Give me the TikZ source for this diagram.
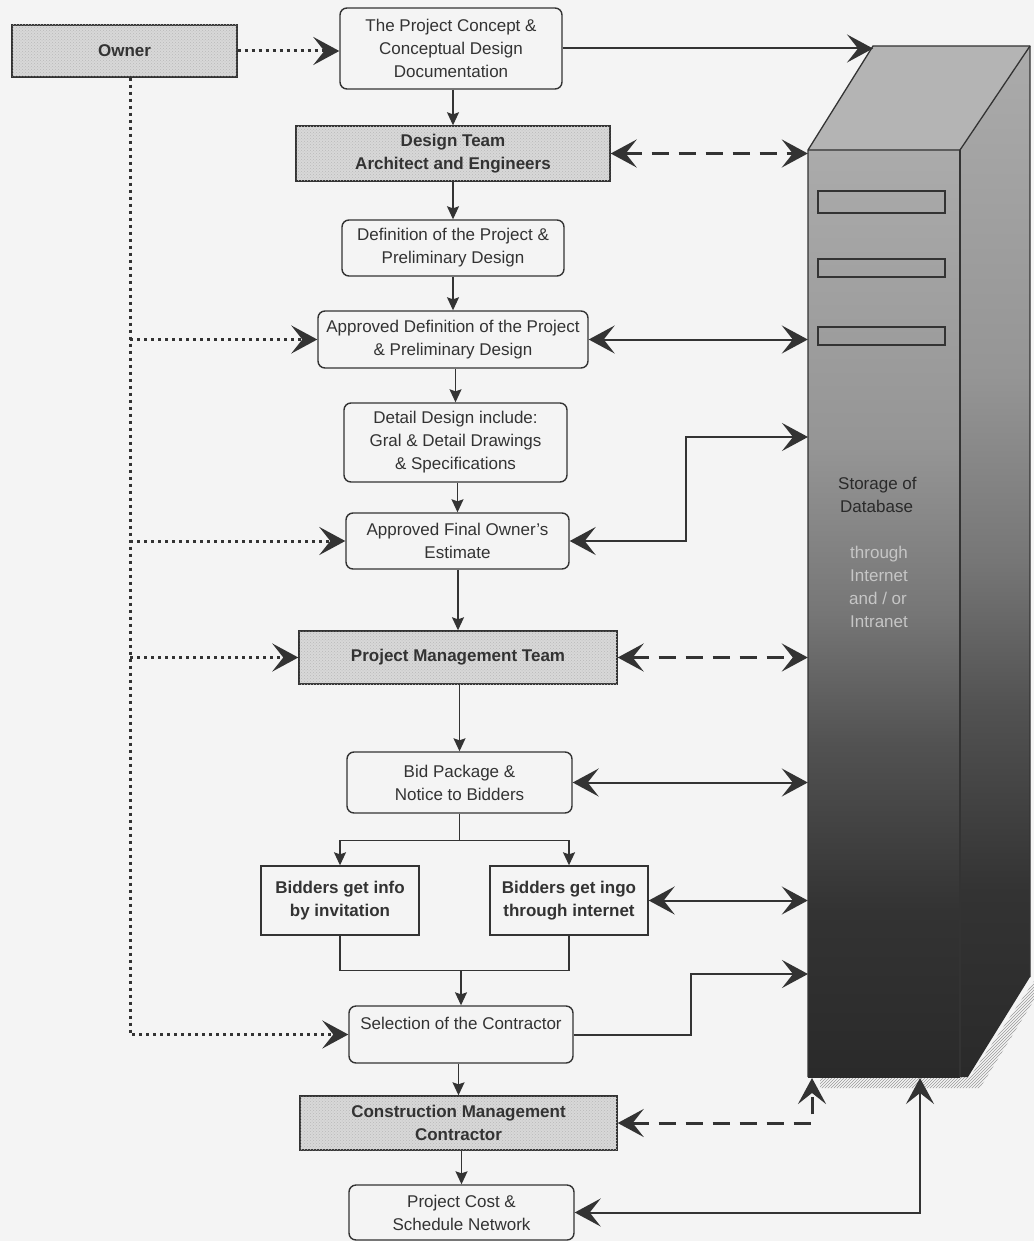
\documentclass[tikz,border=0pt]{standalone}
\usepackage{fontspec}
\setmainfont{Liberation Sans}
\usetikzlibrary{arrows.meta,patterns,calc}
\definecolor{ln}{HTML}{333333}
\definecolor{bgc}{HTML}{F4F4F4}
\definecolor{boxgray}{HTML}{D8D8D8}
\definecolor{topgray}{HTML}{B4B4B4}
\definecolor{sa}{HTML}{2A2A2A}
\definecolor{sb}{HTML}{333333}
\definecolor{sc}{HTML}{525252}
\definecolor{sd}{HTML}{767676}
\definecolor{se}{HTML}{959595}
\definecolor{sf}{HTML}{ABABAB}
\pgfdeclareverticalshading{srvshade}{100bp}{color(0bp)=(sa); color(25bp)=(sa); color(34bp)=(sb); color(43bp)=(sc); color(50bp)=(sd); color(59bp)=(se); color(75bp)=(sf); color(100bp)=(sf)}
\newcommand\myfs{\fontsize{17}{23}\selectfont}
\tikzset{
  BigTip/.tip={Stealth[length=26pt,width=28pt,inset=11pt]},
  SmallTip/.tip={Stealth[length=13pt,width=12pt,inset=2pt]},
  rbox/.style={draw=ln, line width=1.4pt, rounded corners=7pt, fill=bgc, align=center, inner sep=1pt, font=\myfs, text=ln},
  pbox/.style={draw=ln, line width=1.4pt, fill=bgc, align=center, inner sep=1pt, font=\myfs\bfseries, text=ln},
  gbox/.style={draw=ln, line width=1.4pt, fill=boxgray, postaction={pattern=crosshatch dots, pattern color=gray!55}, align=center, inner sep=1pt, font=\myfs\bfseries, text=ln},
  flow/.style={draw=ln, line width=1.3pt, -{SmallTip}},
  conn/.style={draw=ln, line width=2pt},
  dotline/.style={draw=ln, line width=3pt, dash pattern=on 3pt off 4pt},
  dashline/.style={draw=ln, line width=3pt, dash pattern=on 17pt off 10pt},
  srvtext/.style={anchor=base west, inner sep=0pt, font=\myfs},
}
\begin{document}
\begin{tikzpicture}[x=1pt,y=-1pt]
\fill[bgc] (0,0) rectangle (1034,1241);
\useasboundingbox (0,0) rectangle (1034,1241);

% server
\fill[pattern=north east lines, pattern color=gray!80] (820,1077) -- (970,1077) -- (1034,981) -- (1034,1000) -- (980,1088) -- (820,1088) -- cycle;
\fill[topgray] (808,150) -- (873,46) -- (1030,46) -- (960,150) -- cycle;
\shade[shading=srvshade] (960,150) -- (1030,46) -- (1030,977) -- (968,1077) -- (960,1077) -- cycle;
\shade[shading=srvshade] (808,150) rectangle (960,1077);
\draw[ln, line width=1.3pt, line join=round] (808,1077) -- (808,150) -- (873,46) -- (1030,46) -- (1030,977);
\draw[ln, line width=1.3pt] (808,150) -- (960,150) -- (1030,46);
\draw[ln, line width=1.3pt] (960,150) -- (960,1077);
\draw[ln, line width=1.5pt] (818,191) rectangle (945,213);
\draw[ln, line width=1.5pt] (818,259) rectangle (945,277);
\draw[ln, line width=1.5pt] (818,327) rectangle (945,345);
\node[minimum width=152pt, minimum height=927pt, inner sep=0pt] (server) at (884,613.5) {};
\coordinate (srvTL) at (873,46);
\node[srvtext, text=sa] (st1) at (838,489) {Storage of};
\node[srvtext, text=sa] (st2) at (840,512) {Database};
\node[srvtext, text=gray!45] (st3) at (850,558) {through};
\node[srvtext, text=gray!45] (st4) at (850,581) {Internet};
\node[srvtext, text=gray!45] (st5) at (849,604) {and / or};
\node[srvtext, text=gray!45] (st6) at (850,627) {Intranet};

% boxes
\node[gbox, font=\myfs\bfseries, minimum width=225pt, minimum height=52pt] (owner) at (124.5,51) {Owner};
\node[rbox, minimum width=222pt, minimum height=81pt] (concept) at (451,48.5) {The Project Concept \&\\Conceptual Design\\Documentation};
\node[gbox, minimum width=314pt, minimum height=55pt] (design) at (453,153.5) {Design Team\\Architect and Engineers};
\node[rbox, minimum width=222pt, minimum height=56pt] (defn) at (453,248) {Definition of the Project \&\\Preliminary Design};
\node[rbox, minimum width=270pt, minimum height=57pt] (apdef) at (453,339.5) {Approved Definition of the Project\\\& Preliminary Design};
\node[rbox, minimum width=223pt, minimum height=79pt] (detail) at (455.5,442.5) {Detail Design include:\\Gral \& Detail Drawings\\\& Specifications};
\node[rbox, minimum width=223pt, minimum height=56pt] (estim) at (457.5,541) {Approved Final Owner's\\Estimate};
\node[gbox, minimum width=318pt, minimum height=53pt] (pmt) at (458,657.5) {Project Management Team};
\node[rbox, minimum width=225pt, minimum height=61pt] (bid) at (459.5,782.5) {Bid Package \&\\Notice to Bidders};
\node[pbox, minimum width=158pt, minimum height=69pt] (binv) at (340,900.5) {Bidders get info\\by invitation};
\node[pbox, minimum width=158pt, minimum height=69pt] (bint) at (569,900.5) {Bidders get ingo\\through internet};
\node[rbox, minimum width=224pt, minimum height=57pt] (sel) at (461,1034.5) {Selection of the Contractor\\\mbox{}};
\node[gbox, minimum width=317pt, minimum height=54pt] (cmc) at (458.5,1123) {Construction Management\\Contractor};
\node[rbox, minimum width=225pt, minimum height=55pt] (pcost) at (461.5,1212.5) {Project Cost \&\\Schedule Network};

% flow arrows
\draw[flow] (concept.south -| design.north) -- (design.north);
\draw[flow] (design.south) -- (defn.north);
\draw[flow] (defn.south) -- (apdef.north);
\draw[flow] (apdef.south -| detail.north) -- (detail.north);
\draw[flow] (detail.south -| estim.north) -- (estim.north);
\draw[flow] (estim.south -| pmt.north) -- (pmt.north);
\draw[flow] (pmt.south -| bid.north) -- (bid.north);
\draw[draw=ln, line width=1.3pt] (bid.south) -- ++(0,27) coordinate (split);
\draw[flow] (split) -| (binv.north);
\draw[flow] (split) -| (bint.north);
\draw[draw=ln, line width=1.3pt] (binv.south) -- ++(0,35) -| (bint.south);
\coordinate (merge) at (sel.north |- 0,970);
\draw[flow] (merge) -- (sel.north);
\draw[flow] (sel.south -| cmc.north) -- (cmc.north);
\draw[flow] (cmc.south -| pcost.north) -- (pcost.north);

% owner dotted lines
\coordinate (od) at ($(owner.south)+(5.5,0)$);
\draw[dotline, -{BigTip}] (owner.east) -- (owner.east -| concept.west);
\draw[dotline, -{BigTip}] (od) |- (sel.west);
\draw[dotline, -{BigTip}] (od |- apdef.west) -- (apdef.west);
\draw[dotline, -{BigTip}] (od |- estim.west) -- (estim.west);
\draw[dotline, -{BigTip}] (od |- pmt.west) -- (pmt.west);

% connectors to server
\draw[conn, -{BigTip}] (concept.east) -- (concept.east -| srvTL);
\draw[dashline, {BigTip}-{BigTip}] (design.east) -- (design.east -| server.west);
\draw[conn, {BigTip}-{BigTip}] (apdef.east) -- (apdef.east -| server.west);
\coordinate (estT) at (808,437);
\draw[conn, {BigTip}-{BigTip}] (estim.east) -- ++(116,0) |- (estT);
\draw[dashline, {BigTip}-{BigTip}] (pmt.east) -- (pmt.east -| server.west);
\draw[conn, {BigTip}-{BigTip}] (bid.east) -- (bid.east -| server.west);
\draw[conn, {BigTip}-{BigTip}] (bint.east) -- (bint.east -| server.west);
\coordinate (selT) at (808,974);
\draw[conn, -{BigTip}] (sel.east) -- ++(117,0) |- (selT);
\coordinate (cmcT) at (812,1078);
\draw[dashline, {BigTip}-{BigTip}] (cmc.east) -| (cmcT);
\coordinate (pcT) at (920,1078);
\draw[conn, {BigTip}-{BigTip}] (pcost.east) -| (pcT);
\end{tikzpicture}
\end{document}
